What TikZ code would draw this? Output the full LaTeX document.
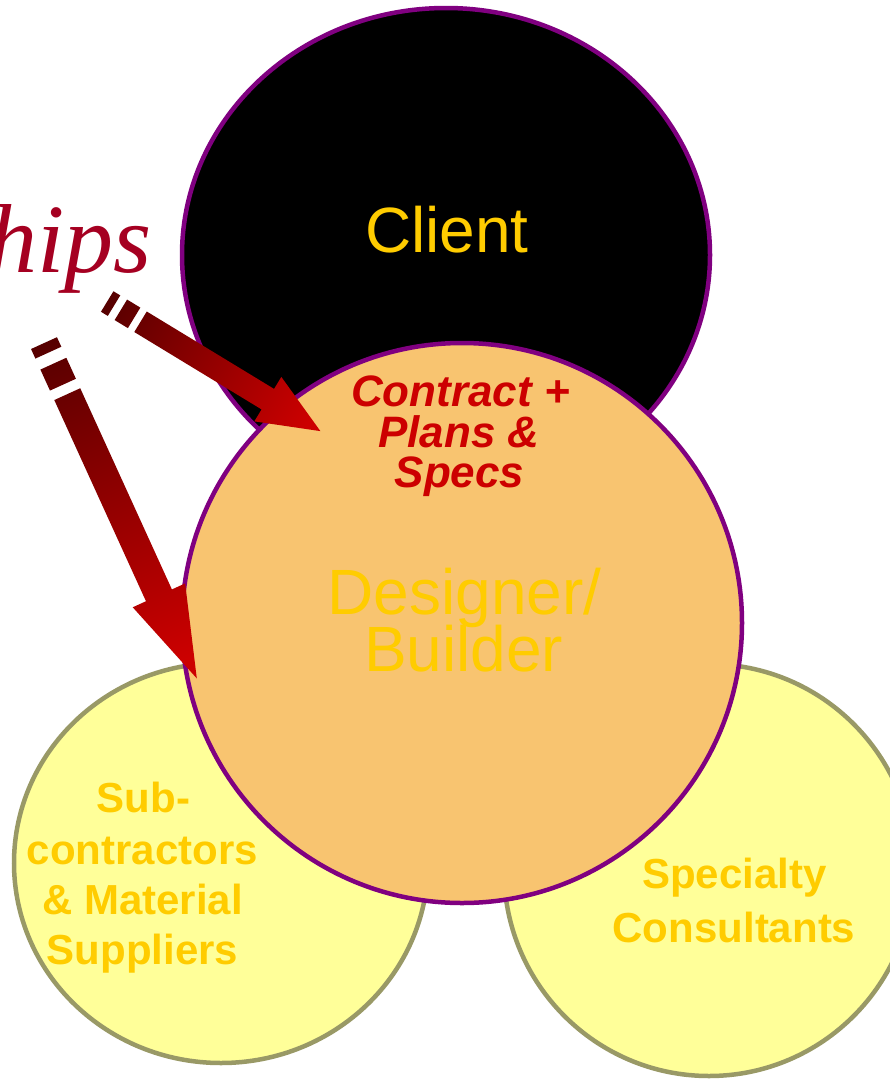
\documentclass[tikz,border=0pt]{standalone}
\usepackage{fontspec}
\setmainfont{Liberation Sans}
\newfontfamily\relfont{Liberation Serif}
\usetikzlibrary{shapes.geometric}
\definecolor{purp}{HTML}{800080}
\definecolor{desfill}{HTML}{F8C470}
\definecolor{yelfill}{HTML}{FFFF99}
\definecolor{yeledge}{HTML}{999966}
\definecolor{goldtxt}{HTML}{FFCC00}
\definecolor{ctrred}{HTML}{CC0000}
\definecolor{relred}{HTML}{A50021}
\definecolor{arrdark}{HTML}{180000}
\definecolor{arrred}{HTML}{CC0000}
\pgfdeclarehorizontalshading{arrowshade}{100bp}{color(0bp)=(arrdark); color(72bp)=(arrred); color(100bp)=(arrred)}
\begin{document}
\begin{tikzpicture}[x=1pt,y=-1pt,
  bubble/.style={ellipse, inner sep=0pt, outer sep=0pt, line width=4.5pt},
  biglbl/.style={anchor=base, inner sep=0pt, text=goldtxt, font=\fontsize{64pt}{64pt}\selectfont},
  ctrlbl/.style={anchor=base, inner sep=0pt, text=ctrred, font=\fontsize{44pt}{44pt}\selectfont\bfseries\itshape},
  smlbl/.style={anchor=base, inner sep=0pt, text=goldtxt, font=\fontsize{42pt}{42pt}\selectfont\bfseries},
  stripearrow/.style={shading=arrowshade}]
\useasboundingbox (0,0) rectangle (890,1079);
\fill[white] (0,0) rectangle (890,1079);
\begin{scope}
\clip (0,0) rectangle (890,1079);
\node[bubble, draw=yeledge, fill=yelfill, minimum width=414pt, minimum height=400pt] (sub) at (221,863) {};
\node[bubble, draw=yeledge, fill=yelfill, minimum width=410pt, minimum height=412pt] (spec) at (709,870) {};
\node[bubble, draw=purp, fill=black, minimum width=528pt, minimum height=494pt] (client) at (446,255) {};
\node[bubble, draw=purp, fill=desfill, minimum width=560pt, minimum height=560pt] (des) at (462,623) {};

\node[biglbl] (clientlbl) at (447,252) {Client};
\node[biglbl] (desA) at (464.7,614) {Designer/};
\node[biglbl] (desB) at (463.7,671) {Builder};

\node[ctrlbl] (ctrA) at (460.5,406) {Contract +};
\node[ctrlbl] (ctrB) at (459,447) {Plans \&};
\node[ctrlbl] (ctrC) at (459.5,487) {Specs};

\node[smlbl] (subA) at (143.5,812) {Sub-};
\node[smlbl] (subB) at (142.5,864) {contractors};
\node[smlbl] (subC) at (142.5,914) {\& Material};
\node[smlbl] (subD) at (142.5,964) {Suppliers};

\node[smlbl] (specA) at (734.5,888) {Specialty};
\node[smlbl] (specB) at (734,942) {Consultants};

\node[anchor=base east, inner sep=0pt, text=relred, font=\relfont\itshape\fontsize{98pt}{98pt}\selectfont] (rel) at (152,272) {hips};

\coordinate (aOneTail) at (107.2,301.5);
\coordinate (aTwoTail) at (44,343.1);
\end{scope}

\begin{scope}[transform canvas={shift={(aOneTail)}, rotate=-31.3}]
\shade[stripearrow] (0,-12) rectangle (8,12) (16,-12) rectangle (31.5,12)
  (39,-12) -- (188,-12) -- (188,-26) -- (249.5,0) -- (188,26) -- (188,12) -- (39,12) -- cycle;
\end{scope}
\begin{scope}[transform canvas={shift={(aTwoTail)}, rotate=-65.5}]
\shade[stripearrow] (0,-14.25) rectangle (10.5,14.25) (22.6,-14.25) rectangle (45.7,14.25)
  (56.1,-14.25) -- (277.2,-14.25) -- (277.2,-28.8) -- (368.5,0) -- (277.2,28.8) -- (277.2,14.25) -- (56.1,14.25) -- cycle;
\end{scope}
\end{tikzpicture}
\end{document}
